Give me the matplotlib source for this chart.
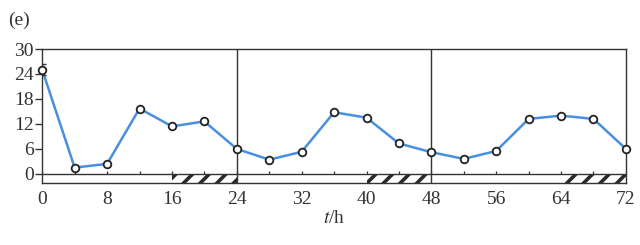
import matplotlib.pyplot as plt
from matplotlib.patches import Rectangle

hours = [0, 4, 8, 12, 16, 20, 24, 28, 32, 36, 40, 44, 48, 52, 56, 60, 64, 68, 72]
values = [25.0, 1.5, 2.4, 15.7, 11.4, 12.6, 6.0, 3.4, 5.3, 14.8, 13.5, 7.3,
          5.2, 3.6, 5.5, 13.2, 14.0, 13.2, 6.0]
err_first = 1.3
dark_periods = [(16, 24), (40, 48), (64, 72)]
day_lines = [24, 48]
x_labels = [0, 8, 16, 24, 32, 40, 48, 56, 64, 72]
y_labels = [0, 6, 12, 18, 24, 30]

plt.rcParams["font.family"] = ["Liberation Serif", "DejaVu Serif"]
plt.rcParams["mathtext.fontset"] = "stix"
plt.rcParams["hatch.linewidth"] = 2.6

fig = plt.figure(figsize=(6.4, 2.45), dpi=100)
ax = fig.add_axes([0.066, 0.253, 0.912, 0.547])
ybot = -2.2
ax.set_xlim(0, 72)
ax.set_ylim(ybot, 30)

# light/dark band under the zero line
ax.axhline(0, color="#333333", lw=1.0, zorder=2)
for a, b in dark_periods:
    ax.add_patch(Rectangle((a, ybot), b - a, -ybot, facecolor="white",
                           edgecolor="#2a2a2a", hatch="//", lw=0, zorder=1))
ax.vlines(range(0, 73, 4), 0, 0.7, color="#333333", lw=0.9, zorder=2)
for d in day_lines:
    ax.axvline(d, color="#333333", lw=1.0, zorder=2)

ax.plot(hours, values, color="#4a8ee0", lw=1.8, zorder=3)
ax.errorbar(hours[:1], values[:1], yerr=err_first, fmt="none", ecolor="#333333",
            elinewidth=1.0, capsize=3, zorder=3)
ax.plot(hours, values, "o", ms=5.5, mfc="white", mec="#222222", mew=1.3,
        zorder=4, clip_on=False)

for s in ax.spines.values():
    s.set_color("#333333")
    s.set_linewidth(1.0)

ax.set_yticks(y_labels)
ax.set_xticks(x_labels)
ax.tick_params(axis="y", direction="out", length=5, width=1.0, labelsize=14,
               pad=1, colors="#333333")
ax.tick_params(axis="x", length=0, labelsize=14, pad=6, colors="#333333")
ax.set_xlabel("$\\it{t}$/h", fontsize=14, labelpad=1, color="#333333")

fig.text(0.012, 0.9, "(e)", fontsize=14, color="#333333")

fig.savefig("out.png", dpi=100)
